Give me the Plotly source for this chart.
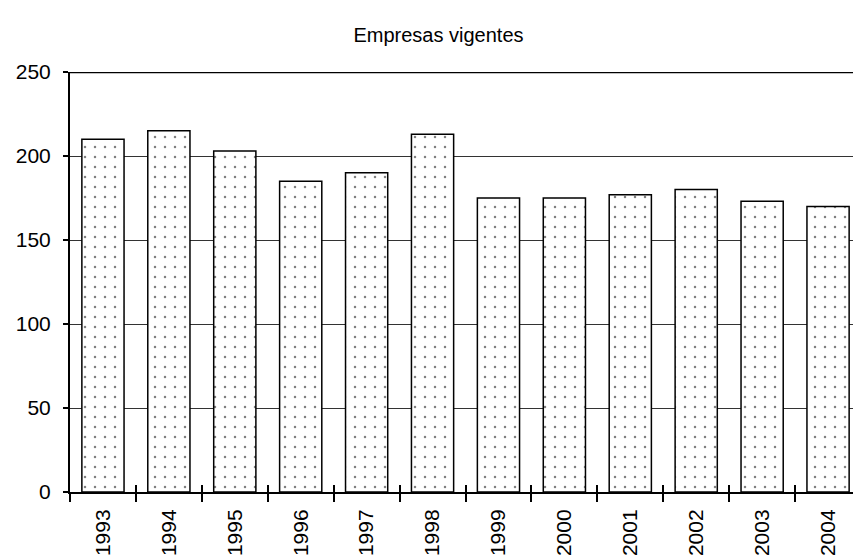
import plotly.graph_objects as go

years = ["1993", "1994", "1995", "1996", "1997", "1998",
         "1999", "2000", "2001", "2002", "2003", "2004"]
empresas = [210, 215, 203, 185, 190, 213, 175, 175, 177, 180, 173, 170]
y_ticks = [0, 50, 100, 150, 200, 250]

fig = go.Figure()

fig.add_trace(go.Bar(
    x=years, y=empresas,
    width=0.64,
    marker=dict(
        color="white",
        line=dict(color="black", width=1.5),
        pattern=dict(shape=".", fgcolor="black", bgcolor="white",
                     size=10, solidity=0.05),
    ),
    showlegend=False,
))

# invisible copy on a second x axis, only so the category ticks also point inward
fig.add_trace(go.Scatter(
    x=years, y=empresas, xaxis="x2", mode="none",
    hoverinfo="skip", showlegend=False,
))

# top frame line at 250
fig.add_shape(type="line", xref="paper", yref="y",
              x0=0, x1=1, y0=250, y1=250,
              line=dict(color="black", width=2.5))

# page body has an 8px margin, margins below compensate for it
fig.update_layout(
    width=861, height=560,
    margin=dict(l=60, r=8, t=64, b=76),
    paper_bgcolor="white", plot_bgcolor="white",
    font=dict(family="Liberation Sans, Arial, sans-serif", color="black", size=21),
    title=dict(text="Empresas vigentes", x=0.5, xanchor="center",
               y=0.952, yanchor="middle", font=dict(size=20)),
    bargap=0.36,
)

fig.update_xaxes(
    type="category", tickangle=-90,
    showline=True, linecolor="black", linewidth=2,
    ticks="outside", tickson="boundaries", ticklen=8, tickcolor="black", tickwidth=1.5,
    showgrid=False, tickfont=dict(size=21), ticklabelstandoff=7,
)

fig.update_layout(xaxis2=dict(
    type="category", overlaying="x", matches="x", anchor="y", side="bottom",
    showline=False, showgrid=False, showticklabels=False,
    ticks="inside", tickson="boundaries", ticklen=7, tickcolor="black", tickwidth=1.5,
))

fig.update_yaxes(
    range=[0, 250], tickvals=y_ticks,
    showline=True, linecolor="black", linewidth=2,
    ticks="outside", ticklen=5, tickcolor="black", tickwidth=1.5,
    showgrid=True, gridcolor="#333333", gridwidth=1,
    zeroline=False, tickfont=dict(size=21), ticklabelstandoff=8,
)

fig.write_html("out.html")
